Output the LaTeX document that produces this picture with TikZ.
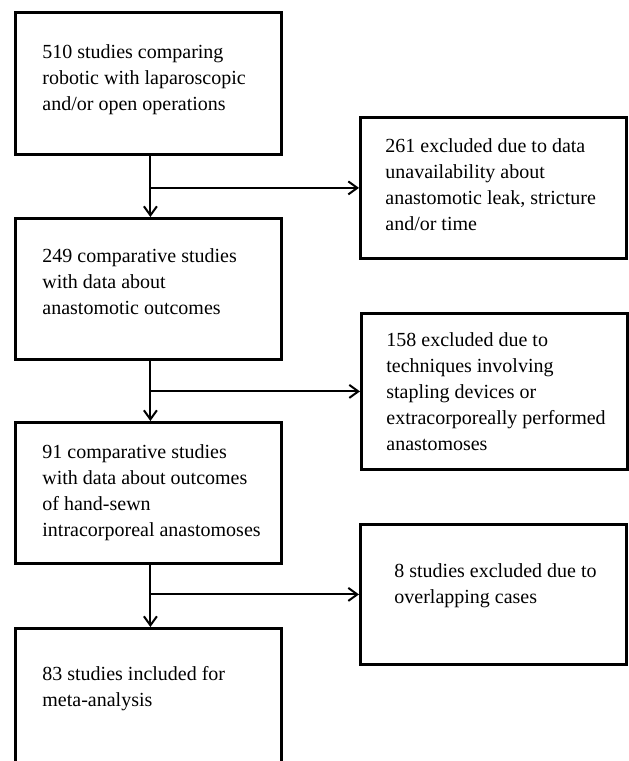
\documentclass[tikz,border=0pt]{standalone}
\usepackage{fontspec}
\setmainfont{Liberation Serif}
\usepackage{xcolor}
\usepackage{tikz}
\usetikzlibrary{arrows.meta}

\newcommand{\boxtext}[4]{\parbox[c][#1][t]{266pt}{\raggedright\leftskip=#3\relax\vspace*{#2}#4}}

\tikzset{
  flowbox/.style={draw, line width=2.8pt, inner sep=0pt, anchor=north west, font=\fontsize{20pt}{26pt}\selectfont},
  flowarrow/.style={line width=2pt, -{Straight Barb[length=9pt,width=13pt]}}
}

\begin{document}
\begin{tikzpicture}[x=1pt,y=-1pt]
\path[use as bounding box,clip] (0,0) rectangle (629,761);
\node[flowbox] (identified) at (14,11) {\boxtext{142pt}{32pt}{27pt}{510 studies comparing\\robotic with laparoscopic\\and/or open operations}};
\node[flowbox] (excldata) at (359,116) {\boxtext{141pt}{21pt}{25pt}{261 excluded due to data\\unavailability about\\anastomotic leak, stricture\\and/or time}};
\node[flowbox] (comparative) at (14,217) {\boxtext{141pt}{30pt}{27pt}{249 comparative studies\\with data about\\anastomotic outcomes}};
\node[flowbox] (excltech) at (360,312) {\boxtext{156pt}{19pt}{25pt}{158 excluded due to\\techniques involving\\stapling devices or\\extracorporeally performed\\anastomoses}};
\node[flowbox] (handsewn) at (14,421) {\boxtext{141pt}{22pt}{27pt}{91 comparative studies\\with data about outcomes\\of hand-sewn\\intracorporeal anastomoses}};
\node[flowbox] (excloverlap) at (359,523) {\boxtext{140pt}{39pt}{34pt}{8 studies excluded due to\\overlapping cases}};
\node[flowbox] (included) at (14,627) {\boxtext{170pt}{38pt}{27pt}{83 studies included for\\meta-analysis}};
\coordinate (split1) at ([xshift=2pt]identified.south);
\coordinate (split2) at ([xshift=2pt]comparative.south);
\coordinate (split3) at ([xshift=2pt]handsewn.south);
\draw[flowarrow] (split1) -- (split1 |- comparative.north);
\draw[flowarrow] (split1 |- excldata.west) -- (excldata.west);
\draw[flowarrow] (split2) -- (split2 |- handsewn.north);
\draw[flowarrow] (split2 |- excltech.west) -- (excltech.west);
\draw[flowarrow] (split3) -- (split3 |- included.north);
\draw[flowarrow] (split3 |- excloverlap.west) -- (excloverlap.west);
\end{tikzpicture}
\end{document}
